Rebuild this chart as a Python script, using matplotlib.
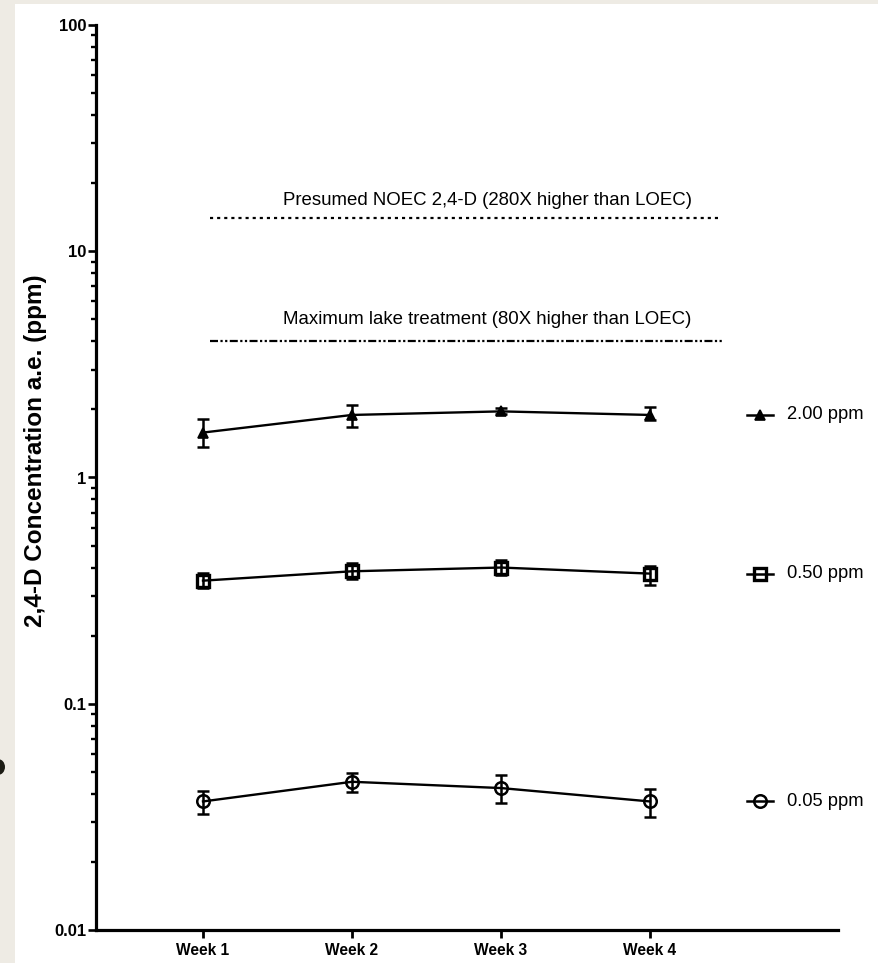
import numpy as np
import matplotlib
matplotlib.use("Agg")
import matplotlib.pyplot as plt
from matplotlib.patches import Rectangle, Ellipse

plt.rcParams['font.family'] = ['Liberation Sans', 'DejaVu Sans']

# ---- data ----
weeks = ["Week 1", "Week 2", "Week 3", "Week 4"]
series_labels = ["2.00 ppm", "0.50 ppm", "0.05 ppm"]
mean_200 = [1.58, 1.89, 1.96, 1.89]
low_200 = [1.36, 1.68, 1.90, 1.79]
high_200 = [1.82, 2.10, 2.02, 2.04]
mean_050 = [0.350, 0.385, 0.400, 0.376]
low_050 = [0.325, 0.355, 0.372, 0.335]
high_050 = [0.378, 0.418, 0.430, 0.408]
mean_005 = [0.0370, 0.0452, 0.0424, 0.0370]
low_005 = [0.0325, 0.0408, 0.0364, 0.0317]
high_005 = [0.0412, 0.0493, 0.0483, 0.0422]
noec_value = 14.0
lake_value = 4.0
noec_label = "Presumed NOEC 2,4-D (280X higher than LOEC)"
lake_label = "Maximum lake treatment (80X higher than LOEC)"
y_ticks = [0.01, 0.1, 1, 10, 100]
y_tick_labels = ["0.01", "0.1", "1", "10", "100"]
ylabel = "2,4-D Concentration a.e. (ppm)"

W, H = 879, 963
fig = plt.figure(figsize=(W / 100, H / 100), dpi=100)
fig.patch.set_facecolor("#eeebe4")
fig.patches.append(Rectangle((15 / W, 0), 1 - 15 / W, 1 - 4 / H,
                             transform=fig.transFigure, facecolor="white",
                             edgecolor="none", zorder=-5))
fig.patches.append(Ellipse((-2 / W, 1 - 767 / H), 14 / W, 16 / H,
                           transform=fig.transFigure, facecolor="#1c1c14",
                           edgecolor="none", zorder=-4))

ax = fig.add_axes([96 / W, 1 - 930 / H, (838 - 96) / W, (930 - 25) / H])
ax.set_zorder(5)
ax.set_facecolor("none")
ax.set_yscale("log")
ax.set_ylim(0.01, 100)
x = np.arange(len(weeks)) + 1
ax.set_xlim(1 - (203 - 96) / 149, 4 + (838 - 650) / 149)

series = [
    (mean_200, low_200, high_200, dict(marker="^", ms=7.5, mfc="black", mec="black", mew=1.2)),
    (mean_050, low_050, high_050, dict(marker="s", ms=9, mfc="white", mec="black", mew=2.4)),
    (mean_005, low_005, high_005, dict(marker="o", ms=9, mfc="white", mec="black", mew=1.8)),
]
leg_x = 4 + (760 - 650) / 149
leg_half = 13 / 149
text_x = 4 + (787 - 650) / 149
for (m, lo, hi, mk), lab in zip(series, series_labels):
    m = np.array(m); lo = np.array(lo); hi = np.array(hi)
    ax.plot(x, m, linestyle="none", zorder=3, **mk)
    ax.errorbar(x, m, yerr=[m - lo, hi - m], color="black", lw=1.7,
                elinewidth=1.8, capsize=4.2, capthick=1.8, zorder=4)
    # end-of-line legend entry
    ax.plot([leg_x], [m[-1]], linestyle="none", zorder=3, **mk)
    ax.plot([leg_x - leg_half, leg_x + leg_half], [m[-1], m[-1]],
            color="black", lw=1.8, zorder=4)
    ax.text(text_x, m[-1], lab, fontsize=13.2, va="center", ha="left")

x0 = 1 + (210 - 203) / 149
x1 = 4 + (722 - 650) / 149
xc = 1 + (487.5 - 203) / 149
ax.plot([x0, x1], [noec_value, noec_value], color="black", lw=1.6,
        linestyle=(0, (1.4, 1.8)))
ax.plot([x0, x1], [lake_value, lake_value], color="black", lw=1.6,
        linestyle=(0, (3.6, 1.1, 1.0, 1.1, 1.0, 1.1)))
ax.annotate(noec_label, (xc, noec_value), xytext=(0, 12.5),
            textcoords="offset points", fontsize=13.4, ha="center", va="center")
ax.annotate(lake_label, (xc, lake_value), xytext=(0, 16),
            textcoords="offset points", fontsize=13.4, ha="center", va="center")

ax.set_xticks(x, weeks)
ax.set_yticks(y_ticks, y_tick_labels)
for s in ["top", "right"]:
    ax.spines[s].set_visible(False)
for s in ["left", "bottom"]:
    ax.spines[s].set_linewidth(2.3)
ax.tick_params(axis="y", which="major", length=6, width=1.9, pad=1,
               labelsize=12)
ax.tick_params(axis="y", which="minor", length=3.5, width=1.7)
ax.tick_params(axis="x", which="major", length=6, width=2.0, pad=3,
               labelsize=11.2)
ax.tick_params(axis="x", which="minor", length=0)
for t in ax.get_xticklabels() + ax.get_yticklabels():
    t.set_fontweight("bold")

ax.set_ylabel(ylabel, fontsize=17.5, fontweight="bold")
ax.yaxis.set_label_coords(-60 / 742, 1 - (451 - 25) / 905)
ax.yaxis.label.set_va("center")

fig.savefig("out.png", dpi=100, facecolor=fig.get_facecolor())
